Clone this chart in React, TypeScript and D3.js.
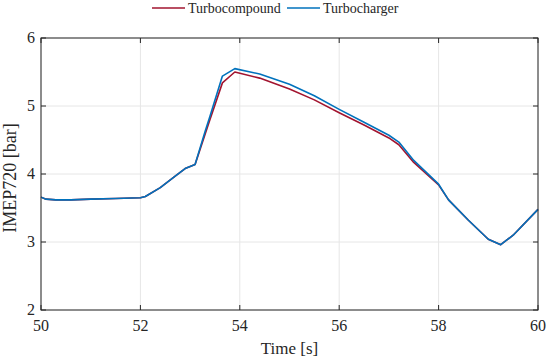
import React from 'react';
import * as d3 from 'd3';

// time axis samples [s]
const time = [50, 50.1, 50.3, 50.6, 51, 51.5, 52, 52.1, 52.4, 52.7, 52.9, 53.1, 53.3, 53.4, 53.65, 53.9, 54.4, 55, 55.5, 56, 56.5, 57, 57.2, 57.5, 58, 58.2, 58.6, 59, 59.25, 59.5, 60];
// IMEP720 [bar]
const turbocharger = [3.66, 3.63, 3.62, 3.62, 3.63, 3.64, 3.65, 3.67, 3.8, 3.97, 4.08, 4.14, 4.62, 4.85, 5.44, 5.55, 5.47, 5.32, 5.15, 4.95, 4.76, 4.57, 4.47, 4.2, 3.85, 3.62, 3.32, 3.04, 2.96, 3.1, 3.48];
const turbocompound = [3.66, 3.63, 3.62, 3.62, 3.63, 3.64, 3.65, 3.67, 3.8, 3.97, 4.08, 4.14, 4.58, 4.8, 5.34, 5.5, 5.41, 5.25, 5.09, 4.9, 4.72, 4.53, 4.43, 4.17, 3.84, 3.62, 3.32, 3.04, 2.96, 3.1, 3.48];
const xTicks = [50, 52, 54, 56, 58, 60];
const yTicks = [2, 3, 4, 5, 6];

const W = 550;
const H = 361;
const margin = { top: 38, right: 12, bottom: 51, left: 41 };
const font = "'Liberation Serif', 'DejaVu Serif', serif";

const App = () => {
    const x = d3.scaleLinear().domain([50, 60]).range([margin.left, W - margin.right]);
    const y = d3.scaleLinear().domain([2, 6]).range([H - margin.bottom, margin.top]);
    const line = d3.line<number>()
        .x((_, i) => x(time[i]))
        .y((d) => y(d));

    const series = [
        { name: 'Turbocompound', values: turbocompound, color: '#A2142F' },
        { name: 'Turbocharger', values: turbocharger, color: '#0072BD' },
    ];
    const legendX = [152, 287];
    const axisColor = '#262626';
    const tick = 5;

    return (
        <svg width={W} height={H} style={{ display: 'block', position: 'absolute', left: 0, top: 0 }}>
            <rect width={W} height={H} fill="white" />
            {/* grid */}
            {xTicks.map((t) => (
                <line key={`gx${t}`} x1={x(t)} x2={x(t)} y1={y(2)} y2={y(6)} stroke="#e6e6e6" strokeWidth={1} />
            ))}
            {yTicks.map((t) => (
                <line key={`gy${t}`} x1={x(50)} x2={x(60)} y1={y(t)} y2={y(t)} stroke="#e6e6e6" strokeWidth={1} />
            ))}
            {/* series */}
            {series.map((s) => (
                <path key={s.name} d={line(s.values) || ''} fill="none" stroke={s.color} strokeWidth={1.6} strokeLinejoin="round" />
            ))}
            {/* box */}
            <rect x={x(50)} y={y(6)} width={x(60) - x(50)} height={y(2) - y(6)} fill="none" stroke={axisColor} strokeWidth={1} />
            {xTicks.map((t) => (
                <g key={`tx${t}`}>
                    <line x1={x(t)} x2={x(t)} y1={y(2)} y2={y(2) - tick} stroke={axisColor} />
                    <line x1={x(t)} x2={x(t)} y1={y(6)} y2={y(6) + tick} stroke={axisColor} />
                    <text x={x(t)} y={y(2) + 21} textAnchor="middle" fontFamily={font} fontSize={16} fill="#262626">{t}</text>
                </g>
            ))}
            {yTicks.map((t) => (
                <g key={`ty${t}`}>
                    <line x1={x(50)} x2={x(50) + tick} y1={y(t)} y2={y(t)} stroke={axisColor} />
                    <line x1={x(60)} x2={x(60) - tick} y1={y(t)} y2={y(t)} stroke={axisColor} />
                    <text x={x(50) - 6} y={y(t) + 5} textAnchor="end" fontFamily={font} fontSize={16} fill="#262626">{t}</text>
                </g>
            ))}
            <text x={(x(50) + x(60)) / 2} y={H - 7} textAnchor="middle" fontFamily={font} fontSize={17} fill="#262626">Time [s]</text>
            <text transform={`translate(16,${(y(2) + y(6)) / 2 + 4}) rotate(-90)`} textAnchor="middle" fontFamily={font} fontSize={18} fill="#262626">IMEP720 [bar]</text>
            {/* legend */}
            {series.map((s, i) => (
                <g key={`lg${s.name}`} transform={`translate(${legendX[i]},8)`}>
                    <line x1={0} x2={33} y1={0} y2={0} stroke={s.color} strokeWidth={1.6} />
                    <text x={36} y={5} fontFamily={font} fontSize={14} fill="#262626">{s.name}</text>
                </g>
            ))}
        </svg>
    );
};

export default App;
